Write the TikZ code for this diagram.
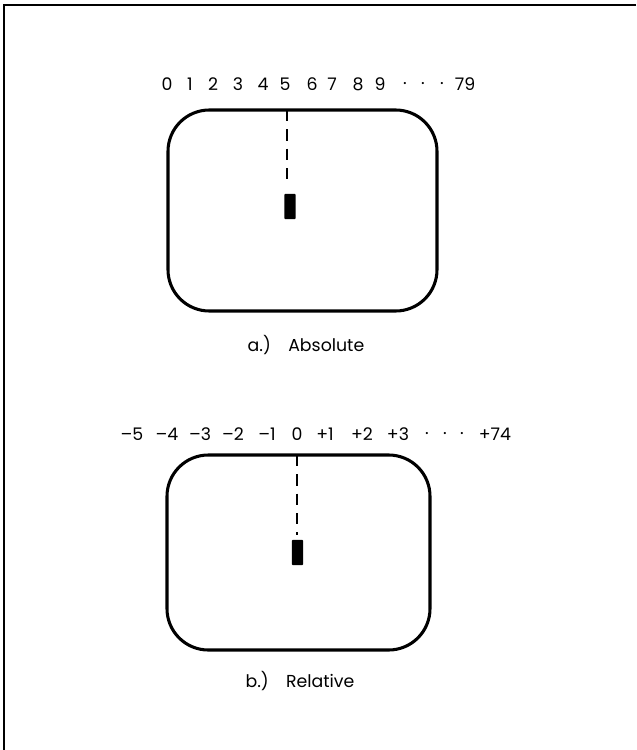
\documentclass[tikz,border=0pt]{standalone}
\usepackage{fontspec}
\setmainfont{Poppins}
\begin{document}
\begin{tikzpicture}[x=0.75pt,y=-0.75pt,
  framestyle/.style={line width=1.8pt},
  screen/.style={draw, line width=2.3pt, rounded corners=31pt, inner sep=0pt},
  cursorbox/.style={fill=black, rounded corners=0.6pt, inner sep=0pt, minimum width=8.6pt, minimum height=18.8pt},
  dashline/.style={line width=0.9pt, dash pattern=on 8.5pt off 6pt},
  num/.style={font=\fontsize{13}{15}\selectfont, inner sep=0pt, anchor=center},
  caption/.style={font=\fontsize{13}{15}\selectfont, inner sep=0pt}
]
\useasboundingbox (0,0) rectangle (636,750);
% frame
\coordinate (ftr) at (636,5);
\coordinate (ftl) at (4,5);
\coordinate (fbl) at (4,750);
\draw[framestyle] (ftr) -- (ftl) -- (fbl);

% (a) absolute
\foreach \x/\t [count=\i] in {167/0,190/1,213/2,238/3,263/4,285/5,312/6,332/7,358/8,380/9,405/.,423/.,442/.,465/79}
  \node[num] (na\i) at (\x,84) {\t};
\node[screen, minimum width=201.75pt, minimum height=150.75pt] (sa) at (302.5,210.5) {};
\node[cursorbox] (ca) at (290,206.5) {};
\coordinate (da1) at (287,110);
\coordinate (da2) at (287,187);
\draw[dashline] (da1) -- (da2);
\node[caption] (capa) at (306,345) {a.)\hspace{13pt}Absolute};

% (b) relative
\foreach \x/\t [count=\i] in {132/\textendash5,167/\textendash4,200/\textendash3,233/\textendash2,267/\textendash1,297/0,325/+1,362/+2,398/+3,427/.,445/.,462/.,495/+74}
  \node[num] (nb\i) at (\x,434) {\t};
\node[screen, minimum width=197.25pt, minimum height=146.25pt] (sb) at (298.5,552.5) {};
\node[cursorbox] (cb) at (297.5,552.5) {};
\coordinate (db1) at (297,455);
\coordinate (db2) at (297,535);
\draw[dashline] (db1) -- (db2);
\node[caption] (capb) at (300,681) {b.)\hspace{13pt}Relative};
\end{tikzpicture}
\end{document}
